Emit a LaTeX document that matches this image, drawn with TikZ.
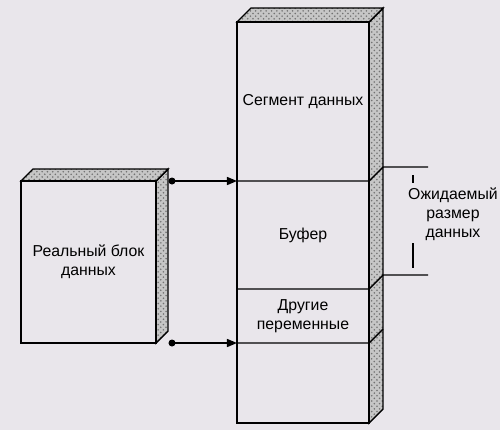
\documentclass[tikz,border=0pt]{standalone}
\usepackage{fontspec}
\setmainfont{Liberation Sans}
\usepackage{tikz}
\usetikzlibrary{arrows.meta,patterns}
\definecolor{bgcol}{RGB}{233,230,235}

\begin{document}
\begin{tikzpicture}[scale=0.2,
    face/.style={draw, thick, fill=bgcol},
    side/.style={draw, thick, preaction={fill=gray!45}, pattern=crosshatch dots, pattern color=black!55},
    lbl/.style={align=center, font=\fontsize{9}{10.8}\selectfont},
    lnk/.style={thick, -{Triangle[length=2mm,width=1.6mm]}}]
    %%Nền
    \fill[bgcol] (0,0) rectangle (50,43);
    \useasboundingbox (0,0) rectangle (50,43);
    %%Khối dữ liệu thực
    \draw[side] (15.6,8.7) -- (16.8,9.9) -- (16.8,26.1) -- (15.6,24.9) -- cycle;
    \draw[side] (2.1,24.9) -- (3.3,26.1) -- (16.8,26.1) -- (15.6,24.9) -- cycle;
    \draw[face] (2.1,8.7) rectangle (15.6,24.9);
    \node[lbl] (blk) at (8.85,16.8) {Реальный блок\\данных};
    %%Đoạn dữ liệu
    \draw[side] (36.9,0.7) -- (38.3,2.1) -- (38.3,42.2) -- (36.9,40.8) -- cycle;
    \draw[side] (23.7,40.8) -- (25.1,42.2) -- (38.3,42.2) -- (36.9,40.8) -- cycle;
    \draw[face] (23.7,0.7) rectangle (36.9,40.8);
    \draw[thick] (23.7,24.9) -- (36.9,24.9) -- (38.3,26.3) -- (42.8,26.3);
    \draw[thick] (23.7,14.1) -- (36.9,14.1) -- (38.3,15.5) -- (42.8,15.5);
    \draw[thick] (23.7,8.7) -- (36.9,8.7) -- (38.3,10.1);
    \node[lbl] (seg) at (30.3,32.85) {Сегмент данных};
    \node[lbl] (buf) at (30.3,19.5) {Буфер};
    \node[lbl] (oth) at (30.3,11.4) {Другие\\переменные};
    %%Kích thước
    \draw[thick] (41.3,25.5) -- (41.3,24.7);
    \draw[thick] (41.3,18.7) -- (41.3,16.2);
    \node[lbl] (sz) at (45.3,21.6) {Ожидаемый\\размер\\данных};
    %%Mũi tên
    \coordinate (d1) at (17.2,24.9);
    \coordinate (a1) at (23.7,24.9);
    \coordinate (d2) at (17.2,8.7);
    \coordinate (a2) at (23.7,8.7);
    \fill (d1) circle (0.35) (d2) circle (0.35);
    \draw[lnk] (d1) -- (a1);
    \draw[lnk] (d2) -- (a2);
\end{tikzpicture}
\end{document}
